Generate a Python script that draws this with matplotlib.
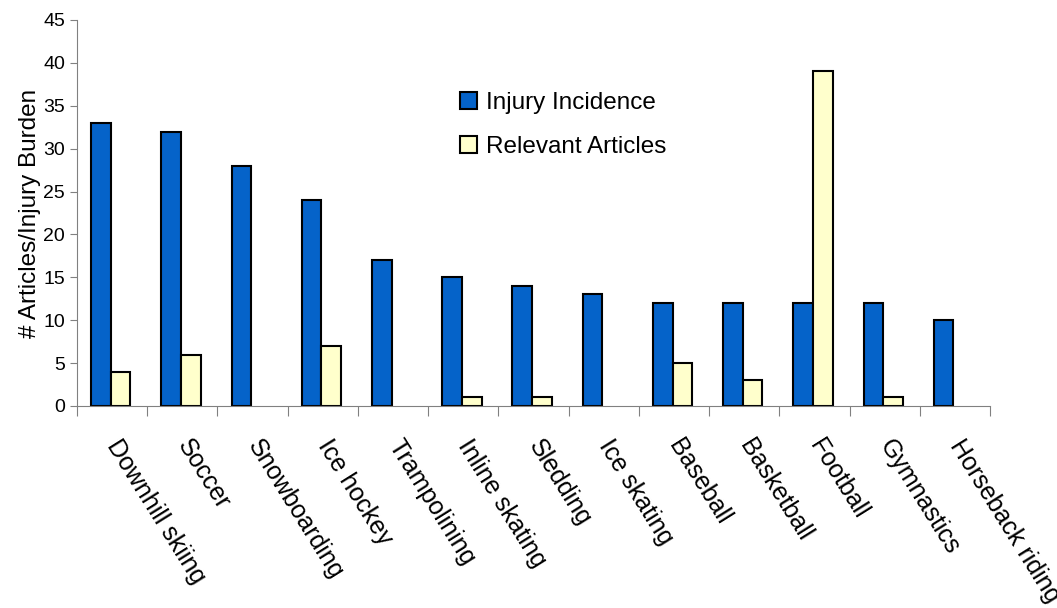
import numpy as np
import matplotlib.pyplot as plt

sports = ["Downhill skiing", "Soccer", "Snowboarding", "Ice hockey", "Trampolining",
          "Inline skating", "Sledding", "Ice skating", "Baseball", "Basketball",
          "Football", "Gymnastics", "Horseback riding"]
injury_incidence = [33, 32, 28, 24, 17, 15, 14, 13, 12, 12, 12, 12, 10]
relevant_articles = [4, 6, 0, 7, 0, 1, 1, 0, 5, 3, 39, 1, 0]

plt.rcParams['font.family'] = ['Liberation Sans', 'DejaVu Sans']

fig = plt.figure(figsize=(10.57, 6.08), dpi=100)
ax = fig.add_axes([77 / 1057, 1 - 406 / 608, (990 - 77) / 1057, (406 - 20) / 608])

x = np.arange(len(sports))
w = 0.28
ax.bar(x - w / 2 - 0.02, injury_incidence, w, color='#0563C9', edgecolor='black',
       linewidth=1.5, label='Injury Incidence')
bars = ax.bar(x + w / 2 - 0.02, relevant_articles, w, color='#FFFFCC', edgecolor='black',
              linewidth=1.5, label='Relevant Articles')
# empty bars are not drawn in the original
for b, v in zip(bars, relevant_articles):
    if v == 0:
        b.set_visible(False)

ax.set_xlim(-0.5, len(sports) - 0.5)
ax.set_ylim(0, 45)
ax.set_yticks(range(0, 46, 5))
ax.tick_params(axis='y', labelsize=14, length=5, color='#808080', direction='out')

ax.set_xticks(np.arange(-0.5, len(sports), 1))
ax.set_xticklabels([])
ax.tick_params(axis='x', length=7, color='#808080', direction='out')
# labels run off the right edge as in the original
for i, s in enumerate(sports):
    ax.text(i + 0.15, -3.4, s, rotation=-58, ha='left', va='top',
            rotation_mode='anchor', fontsize=18, clip_on=False)

for side in ['top', 'right']:
    ax.spines[side].set_visible(False)
for side in ['left', 'bottom']:
    ax.spines[side].set_color('#808080')

ax.set_ylabel("# Articles/Injury Burden", fontsize=17.5, labelpad=2)

ax.legend(loc='upper left', bbox_to_anchor=(0.395, 0.87), frameon=False, fontsize=17.5,
          handlelength=0.7, handleheight=0.7, labelspacing=0.9, handletextpad=0.4)

fig.savefig('out.png')
